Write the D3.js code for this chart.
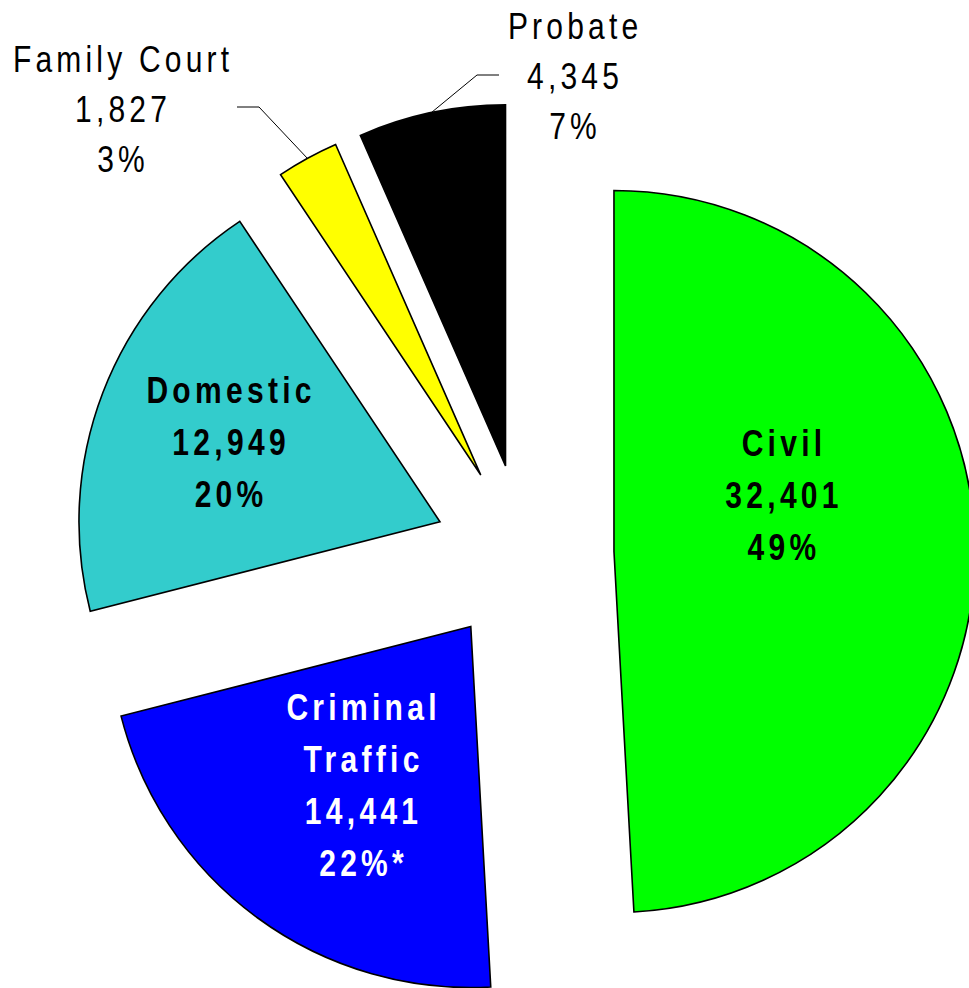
<!DOCTYPE html>
<html>
<head>
<meta charset="utf-8">
<script src="https://cdn.jsdelivr.net/npm/d3@7"></script>
<style>
    html, body { margin: 0; padding: 0; background: #ffffff; }
    .chartCanvas { width: 969px; height: 988px; overflow: hidden; }
</style>
</head>
<body>
<div class="chartCanvas"></div>
<script>
const categories = ["Civil", "Criminal Traffic", "Domestic", "Family Court", "Probate"];
const caseCounts = [32401, 14441, 12949, 1827, 4345];
const countLabels = ["32,401", "14,441", "12,949", "1,827", "4,345"];
const percentLabels = ["49%", "22%*", "20%", "3%", "7%"];
const nameLines = [["Civil"], ["Criminal", "Traffic"], ["Domestic"], ["Family Court"], ["Probate"]];
const sliceColors = ["#00ff00", "#0000ff", "#33cccc", "#ffff00", "#000000"];

class PieView {

    static width = 969;
    static height = 988;
    static center = [524, 554];
    static radius = 361;
    static explode = 90;
    static squeeze = 0.8;

    // labels drawn on the slice: distance from the slice tip, vertical nudge
    static insideLabels = {
        0: {dist: 168, dy: -52, fill: "#000000"},
        1: {dist: 185, dy: 9, fill: "#ffffff"},
        2: {dist: 226, dy: 0.5, fill: "#000000"}
    };

    // labels drawn beside the slice with a leader line
    static outsideLabels = {
        3: {x: 121, y: 72, elbow: [259, 107], end: 237},
        4: {x: 573, y: 39, elbow: [477, 75], end: 499}
    };

    svg;
    slices;

    constructor() {
        this.svg = d3.select(".chartCanvas")
            .append("svg")
            .attr("width", PieView.width)
            .attr("height", PieView.height);

        const pie = d3.pie().sort(null).value(d => d.count);
        this.slices = pie(categories.map((c, i) => ({
            name: c, count: caseCounts[i], index: i
        })));

        this.slices.forEach(s => {
            const mid = (s.startAngle + s.endAngle) / 2;
            s.dir = [Math.sin(mid), -Math.cos(mid)];
            s.tip = [
                PieView.center[0] + PieView.explode * s.dir[0],
                PieView.center[1] + PieView.explode * s.dir[1]
            ];
        });
    }

    drawSlices() {
        const arc = d3.arc().innerRadius(0).outerRadius(PieView.radius);
        this.svg.append("g")
            .selectAll("path")
            .data(this.slices).enter()
            .append("path")
            .attr("transform", d => `translate(${d.tip[0]},${d.tip[1]})`)
            .attr("d", arc)
            .attr("fill", d => sliceColors[d.data.index])
            .attr("stroke", "#000000")
            .attr("stroke-width", 1.6)
            .attr("stroke-linejoin", "miter");
    }

    writeLine(g, text, x, y, bold, fill) {
        const spacing = bold ? 4.3 : 4.2;
        g.append("text")
            .attr("transform", `translate(${x},${y}) scale(${PieView.squeeze},1)`)
            .attr("text-anchor", "middle")
            .attr("dx", spacing / PieView.squeeze / 2)
            .style("font-family", "'Liberation Sans', Arial, sans-serif")
            .style("font-size", "37.5px")
            .style("font-weight", bold ? "bold" : "normal")
            .style("letter-spacing", (spacing / PieView.squeeze) + "px")
            .attr("fill", fill)
            .text(text);
    }

    drawInsideLabels() {
        const g = this.svg.append("g");
        Object.keys(PieView.insideLabels).forEach(key => {
            const i = +key;
            const opt = PieView.insideLabels[key];
            const s = this.slices[i];
            const lines = nameLines[i].concat([countLabels[i], percentLabels[i]]);
            const cx = s.tip[0] + opt.dist * s.dir[0];
            const cy = s.tip[1] + opt.dist * s.dir[1] + opt.dy;
            lines.forEach((t, j) => {
                const y = cy + (j - (lines.length - 1) / 2) * 52 + 13.5;
                this.writeLine(g, t, cx, y, true, opt.fill);
            });
        });
    }

    drawOutsideLabels() {
        const g = this.svg.append("g");
        Object.keys(PieView.outsideLabels).forEach(key => {
            const i = +key;
            const opt = PieView.outsideLabels[key];
            const s = this.slices[i];
            const mid = (s.startAngle + s.endAngle) / 2;
            const edge = [
                s.tip[0] + PieView.radius * Math.sin(mid),
                s.tip[1] - PieView.radius * Math.cos(mid)
            ];
            g.append("polyline")
                .attr("points", [edge, opt.elbow, [opt.end, opt.elbow[1]]].map(p => p.join(",")).join(" "))
                .attr("fill", "none")
                .attr("stroke", "#000000")
                .attr("stroke-width", 1);

            const lines = nameLines[i].concat([countLabels[i], percentLabels[i]]);
            lines.forEach((t, j) => {
                this.writeLine(g, t, opt.x, opt.y + j * 50, false, "#000000");
            });
        });
    }

    static launch() {
        const view = new PieView();
        view.drawSlices();
        view.drawInsideLabels();
        view.drawOutsideLabels();
    }
}

PieView.launch();
</script>
</body>
</html>
